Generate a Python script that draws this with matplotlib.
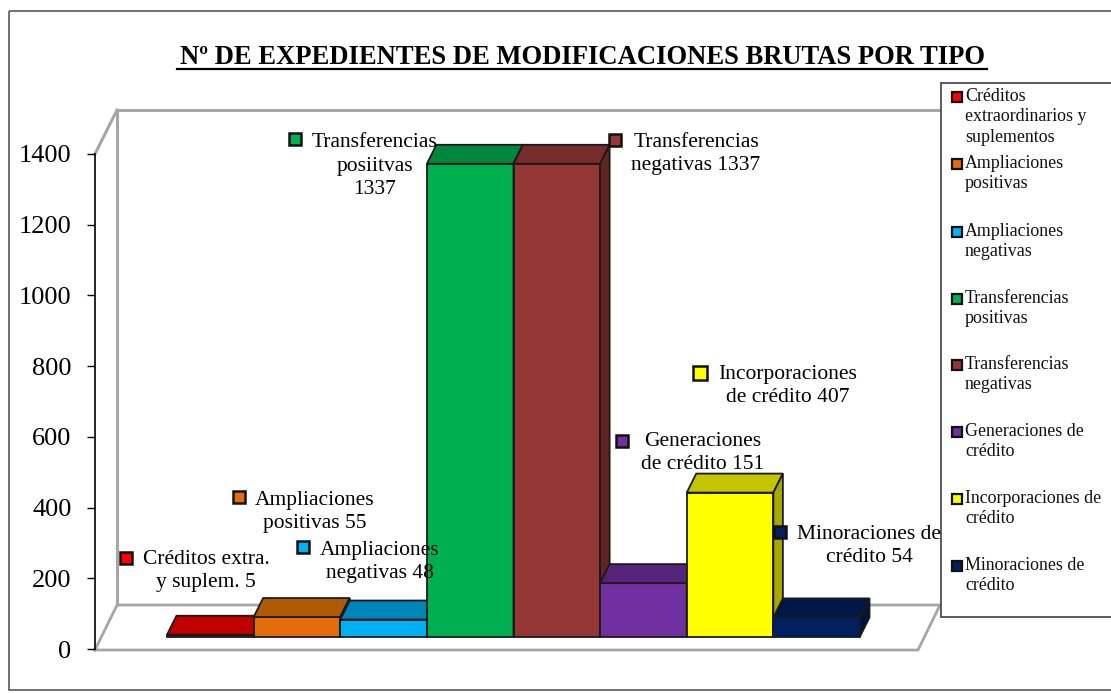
import matplotlib
matplotlib.use("Agg")
import matplotlib.pyplot as plt
from matplotlib.patches import Polygon, Rectangle

W, H = 1111, 693
plt.rcParams["font.family"] = ["Liberation Serif", "DejaVu Serif"]

title = "Nº DE EXPEDIENTES DE MODIFICACIONES BRUTAS POR TIPO"
values = [5, 55, 48, 1337, 1337, 151, 407, 54]
yticks = [0, 200, 400, 600, 800, 1000, 1200, 1400]
front_colors = ["#FF0000", "#E46C0A", "#00B0F0", "#00B050", "#953735", "#7030A0", "#FFFF00", "#002060"]
top_colors = ["#C00000", "#AE5A07", "#0085B8", "#00863D", "#772C2A", "#55247A", "#C4C400", "#001848"]
side_colors = ["#A00000", "#8E4A06", "#006C96", "#006E32", "#612423", "#451D63", "#A8A800", "#00133C"]
data_labels = ["Créditos extra.\ny suplem. 5", "Ampliaciones\npositivas 55", "Ampliaciones\nnegativas 48",
               "Transferencias\nposiitvas\n1337", "Transferencias\nnegativas 1337", "Generaciones\nde crédito 151",
               "Incorporaciones\nde crédito 407", "Minoraciones de\ncrédito 54"]
legend_labels = ["Créditos\nextraordinarios y\nsuplementos", "Ampliaciones\npositivas", "Ampliaciones\nnegativas",
                 "Transferencias\npositivas", "Transferencias\nnegativas", "Generaciones de\ncrédito",
                 "Incorporaciones de\ncrédito", "Minoraciones de\ncrédito"]


def box(left, top, right, bottom):
    return [left / W, 1 - bottom / H, (right - left) / W, (bottom - top) / H]


fig = plt.figure(figsize=(W / 100, H / 100), dpi=100, facecolor="white")

# overlay in pixel coords for walls, frame and texts
bg = fig.add_axes([0, 0, 1, 1], zorder=0)
bg.set_xlim(0, W); bg.set_ylim(H, 0); bg.axis("off")
grey = "#A6A6A6"
bg.plot([117, 117, 940], [605, 110, 110], color=grey, lw=2.2, solid_joinstyle="miter")
bg.plot([95, 117, 940, 918, 95], [650, 605, 605, 650, 650], color=grey, lw=2.0, solid_joinstyle="miter")
bg.plot([95, 117], [154, 110], color=grey, lw=2.2)

# front plane axis with the tick marks
ax = fig.add_axes(box(95, 154, 918, 649), zorder=1)
ax.patch.set_alpha(0)
ax.set_ylim(0, 1400); ax.set_xlim(0, 1)
ax.set_xticks([]); ax.set_yticks(yticks)
ax.tick_params(axis="y", length=6, width=1, pad=11, labelsize=19)
for s in ["top", "right", "bottom"]:
    ax.spines[s].set_visible(False)
ax.spines["left"].set_linewidth(1.2)

# bars, same value scale but standing further back on the floor
bars = fig.add_axes(box(167, 141.5, 860, 636.5), zorder=2)
bars.patch.set_alpha(0)
bars.set_xlim(0, len(values)); bars.set_ylim(0, 1400)
bars.axis("off")
dx = 9.5 / (693 / 8)
dy = 19 * 1400 / 495
for i, v in enumerate(values):
    c = "#1A1A1A"
    bars.bar(i + 0.5, v, width=1, color=front_colors[i], edgecolor=c, lw=1.3, zorder=3 + i, clip_on=False)
    bars.add_patch(Polygon([(i, v), (i + 1, v), (i + 1 + dx, v + dy), (i + dx, v + dy)], fc=top_colors[i], ec=c,
                           lw=1.3, zorder=3 + i, clip_on=False))
    bars.add_patch(Polygon([(i + 1, 0), (i + 1 + dx, dy), (i + 1 + dx, v + dy), (i + 1, v)], fc=side_colors[i], ec=c,
                           lw=1.3, zorder=3 + i, clip_on=False))

# texts on top
top = fig.add_axes([0, 0, 1, 1], zorder=3)
top.patch.set_alpha(0)
top.set_xlim(0, W); top.set_ylim(H, 0); top.axis("off")
top.add_patch(Rectangle((9, 11), W + 10, 679, fc="none", ec="#595959", lw=1.2))
top.text(582, 57, title, ha="center", va="center", fontsize=19.2, fontweight="bold")
top.plot([177, 987], [69, 69], color="black", lw=1.6)

label_pos = [(206, 571), (315, 512), (380, 562), (375, 166), (696, 154), (703, 453), (788, 386), (869, 546)]
marker_pos = [(126, 558), (239, 497), (303, 547), (295, 139), (615, 140), (622, 441), (700, 373), (780, 532)]
for i, t in enumerate(data_labels):
    top.text(label_pos[i][0], label_pos[i][1], t, ha="center", va="center", fontsize=15.5, linespacing=1.3)
    top.plot(*marker_pos[i], marker="s", ms=9 if i != 6 else 10, mfc=front_colors[i], mec="#111111", mew=1.8)

top.add_patch(Rectangle((941, 83), W, 534, fc="white", ec="#404040", lw=1.2, zorder=5))
legend_y = [96, 163, 231, 298, 364, 431, 498, 565]
for i, t in enumerate(legend_labels):
    top.plot(957, legend_y[i] + 1, marker="s", ms=6.5, mfc=front_colors[i], mec="#111111", mew=1.6, zorder=6)
    top.text(965, legend_y[i] - 8, t, ha="left", va="top", fontsize=12.9, linespacing=1.25, zorder=6, color="#111111")

fig.savefig("out.png", dpi=100)
